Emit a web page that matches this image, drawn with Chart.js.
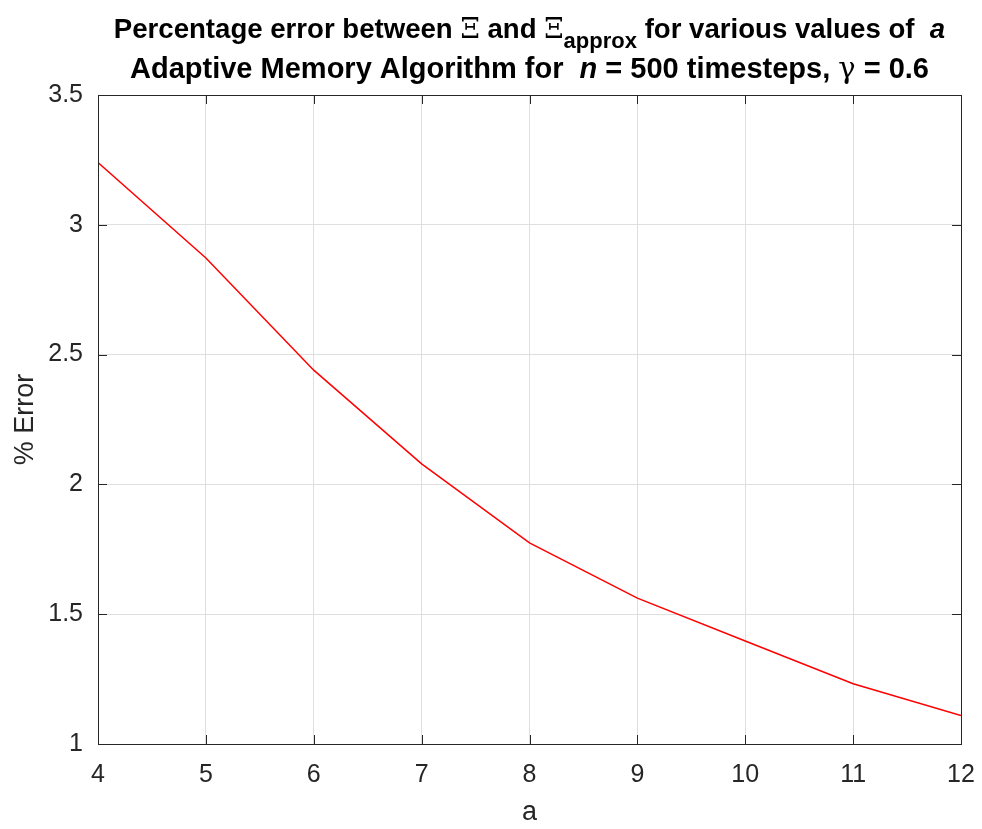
<!DOCTYPE html>
<html>
<head>
<meta charset="utf-8">
<script src="https://cdn.jsdelivr.net/npm/chart.js@4/dist/chart.umd.min.js"></script>
<style>
	html, body { margin: 0; padding: 0; background: #fff; overflow: hidden; }
	#wrap { width: 982px; height: 829px; position: relative; }
</style>
</head>
<body>
<div id="wrap"><canvas id="myChart"></canvas></div>
<script>
// данные
const aValues = [4, 5, 6, 7, 8, 9, 10, 11, 12];
const errorValues = [3.24, 2.872, 2.44, 2.079, 1.775, 1.562, 1.397, 1.232, 1.11];
const yTicks = [1, 1.5, 2, 2.5, 3, 3.5];

const axisColor = "#262626";
const gridColor = "#dfdfdf";
const fontName = "'Liberation Sans', Arial, Helvetica, sans-serif";
const titleFont = "'Liberation Sans', Arial, sans-serif";

// строки заголовка (кусочки с разными стилями)
const titleLines = [
	[
		{ t: "Percentage error between " },
		{ t: "\u039E", sym: true },
		{ t: " and " },
		{ t: "\u039E", sym: true },
		{ t: "approx", sub: true },
		{ t: " for various values of  " },
		{ t: "a", it: true },
	],
	[
		{ t: "Adaptive Memory Algorithm for  " },
		{ t: "n", it: true },
		{ t: " = 500 timesteps, " },
		{ t: "\u03B3", sym: true },
		{ t: " = 0.6" },
	],
];

function runFont(r, size) {
	if (r.sym) return "normal " + size + "px 'DejaVu Serif', serif";
	if (r.sub) return "bold " + Math.round(size * 0.78) + "px " + titleFont;
	return (r.it ? "italic " : "") + "bold " + size + "px " + titleFont;
}

// заголовок с нижним индексом и курсивом
const titlePlugin = {
	id: "mixedTitle",
	afterDraw(chart) {
		const c = chart.ctx;
		const area = chart.chartArea;
		const cx = (area.left + area.right) / 2;
		const sizes = [27.6, 29];
		const baselines = [38, 78];
		c.save();
		c.fillStyle = "#000";
		c.textBaseline = "alphabetic";
		c.textAlign = "left";
		titleLines.forEach((line, i) => {
			let w = 0;
			line.forEach((r) => {
				c.font = runFont(r, sizes[i]);
				w += c.measureText(r.t).width;
			});
			let x = cx - w / 2;
			line.forEach((r) => {
				c.font = runFont(r, sizes[i]);
				const y = baselines[i] + (r.sub ? 10 : 0);
				c.fillText(r.t, x, y);
				x += c.measureText(r.t).width;
			});
		});
		c.restore();
	},
};

// рамка и внутренние засечки как в matlab
const boxPlugin = {
	id: "boxTicks",
	afterDraw(chart) {
		const c = chart.ctx;
		const a = chart.chartArea;
		const xs = chart.scales.x;
		const ys = chart.scales.y;
		const len = 9;
		c.save();
		c.strokeStyle = axisColor;
		c.lineWidth = 1;
		c.beginPath();
		aValues.forEach((v) => {
			const px = Math.round(xs.getPixelForValue(v)) + 0.5;
			c.moveTo(px, a.bottom);
			c.lineTo(px, a.bottom - len);
			c.moveTo(px, a.top);
			c.lineTo(px, a.top + len);
		});
		yTicks.forEach((v) => {
			const py = Math.round(ys.getPixelForValue(v)) + 0.5;
			c.moveTo(a.left, py);
			c.lineTo(a.left + len, py);
			c.moveTo(a.right, py);
			c.lineTo(a.right - len, py);
		});
		c.stroke();
		c.strokeRect(Math.round(a.left) + 0.5, Math.round(a.top) + 0.5, Math.round(a.right - a.left), Math.round(a.bottom - a.top));
		c.restore();
	},
};

const ctx = document.getElementById("myChart");
new Chart(ctx, {
	type: "line",
	data: {
		datasets: [
			{
				data: aValues.map((a, i) => ({ x: a, y: errorValues[i] })),
				borderColor: "#ff0000",
				borderWidth: 1.5,
				pointRadius: 0,
				tension: 0,
				fill: false,
			},
		],
	},
	options: {
		responsive: true,
		maintainAspectRatio: false,
		animation: false,
		layout: {
			padding: { top: 95, right: 21, left: 0, bottom: 0 },
		},
		plugins: {
			legend: { display: false },
			tooltip: { enabled: false },
		},
		scales: {
			x: {
				type: "linear",
				min: 4,
				max: 12,
				afterFit(scale) {
					scale.height = 85;
					scale.paddingLeft = 0;
					scale.paddingRight = 0;
				},
				ticks: {
					stepSize: 1,
					color: axisColor,
					padding: 16,
					font: { family: fontName, size: 25 },
				},
				grid: { color: gridColor, drawTicks: false },
				border: { display: false },
				title: {
					display: true,
					text: "a",
					color: axisColor,
					font: { family: fontName, size: 27 },
					padding: { top: 0, bottom: 0 },
				},
			},
			y: {
				min: 1,
				max: 3.5,
				afterFit(scale) {
					scale.width = 98;
					scale.paddingTop = 0;
					scale.paddingBottom = 0;
				},
				afterBuildTicks(scale) {
					scale.ticks = yTicks.map((v) => ({ value: v }));
				},
				ticks: {
					color: axisColor,
					padding: 15,
					font: { family: fontName, size: 25 },
					callback: (v) => String(v),
				},
				grid: { color: gridColor, drawTicks: false },
				border: { display: false },
				title: {
					display: true,
					text: "% Error",
					color: axisColor,
					font: { family: fontName, size: 27 },
					padding: { top: 9, bottom: 0 },
				},
			},
		},
	},
	plugins: [titlePlugin, boxPlugin],
});
</script>
</body>
</html>
